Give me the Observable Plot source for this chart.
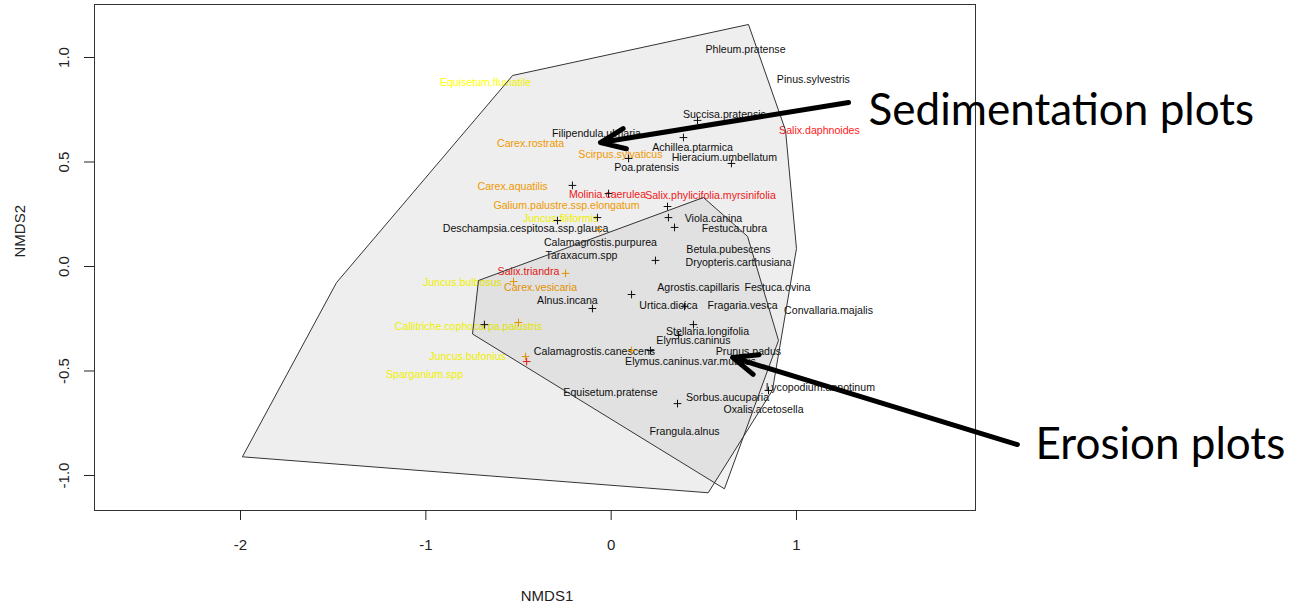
<!DOCTYPE html>
<html><head><meta charset="utf-8">
<script src="https://cdn.jsdelivr.net/npm/d3@7"></script>
<script src="https://cdn.jsdelivr.net/npm/@observablehq/plot@0.6"></script>
<style>body{margin:0;background:#fff}</style>
</head><body><div id="chart"></div>
<script>
// Species labels (NMDS scores)
const speciesNames = [
  "Phleum.pratense","Pinus.sylvestris","Succisa.pratensis","Filipendula.ulmaria","Achillea.ptarmica",
  "Hieracium.umbellatum","Poa.pratensis","Viola.canina","Festuca.rubra","Deschampsia.cespitosa.ssp.glauca",
  "Calamagrostis.purpurea","Taraxacum.spp","Betula.pubescens","Dryopteris.carthusiana","Agrostis.capillaris",
  "Festuca.ovina","Alnus.incana","Urtica.dioica","Fragaria.vesca","Convallaria.majalis",
  "Stellaria.longifolia","Elymus.caninus","Calamagrostis.canescens","Prunus.padus","Elymus.caninus.var.muticus",
  "Lycopodium.annotinum","Equisetum.pratense","Sorbus.aucuparia","Oxalis.acetosella","Frangula.alnus",
  "Carex.rostrata","Scirpus.sylvaticus","Carex.aquatilis","Galium.palustre.ssp.elongatum","Carex.vesicaria",
  "Salix.daphnoides","Molinia.caerulea","Salix.phylicifolia.myrsinifolia","Salix.triandra",
  "Equisetum.fluviatile","Juncus.filiformis","Juncus.bulbosus","Callitriche.cophocarpa.palustris","Juncus.bufonius","Sparganium.spp"
];
const speciesX = [
  0.725, 1.091, 0.611, -0.079, 0.439,
  0.611, 0.191, 0.552, 0.665, -0.462,
  -0.058, -0.160, 0.633, 0.687, 0.471,
  0.897, -0.236, 0.309, 0.709, 1.173,
  0.520, 0.444, -0.090, 0.741, 0.428,
  1.129, -0.004, 0.628, 0.822, 0.396,
  -0.435, 0.050, -0.532, -0.241, -0.381,
  1.124, -0.020, 0.536, -0.446,
  -0.678, -0.273, -0.803, -0.770, -0.775, -1.007
];
const speciesY = [
  1.038, 0.895, 0.727, 0.636, 0.569,
  0.522, 0.474, 0.230, 0.182, 0.182,
  0.115, 0.053, 0.081, 0.019, -0.100,
  -0.100, -0.163, -0.187, -0.187, -0.211,
  -0.311, -0.354, -0.407, -0.407, -0.455,
  -0.579, -0.603, -0.627, -0.684, -0.789,
  0.589, 0.536, 0.383, 0.292, -0.100,
  0.651, 0.344, 0.340, -0.024,
  0.880, 0.230, -0.077, -0.287, -0.431, -0.517
];
const speciesGroup = [
  "k","k","k","k","k","k","k","k","k","k",
  "k","k","k","k","k","k","k","k","k","k",
  "k","k","k","k","k","k","k","k","k","k",
  "o","o","o","o","o",
  "r","r","r","r",
  "y","y","y","y","y","y"
];
// Plot ("+") markers
const pointX = [0.466,0.390,0.649,0.094,-0.209,-0.014,0.304,0.309,0.342,-0.074,-0.290,0.239,0.110,-0.101,0.396,0.444,0.364,-0.684,0.212,0.358,0.849,
  -0.063,-0.246,-0.527,-0.500,-0.462,0.110,
  -0.456];
const pointY = [0.699,0.617,0.493,0.517,0.388,0.349,0.287,0.234,0.187,0.234,0.220,0.029,-0.134,-0.201,-0.191,-0.278,-0.330,-0.278,-0.402,-0.656,-0.593,
  0.177,-0.033,-0.072,-0.268,-0.431,-0.402,
  -0.455];
const pointGroup = ["k","k","k","k","k","k","k","k","k","k","k","k","k","k","k","k","k","k","k","k","k",
  "o","o","o","o","o","o",
  "r"];
// Group colours
const groupNames = ["k","o","r","y"];
const groupColors = ["#111111","#ffa500","#ff1a1a","#ffff00"];
// Convex hulls
const sedHullX = [-1.989,-1.482,-0.532,0.741,0.941,1.000,0.870,0.525];
const sedHullY = [-0.909,-0.077,0.914,1.158,0.651,0.086,-0.593,-1.081];
const eroHullX = [-0.748,-0.716,0.498,0.736,0.903,0.612];
const eroHullY = [-0.321,-0.067,0.330,0.144,-0.354,-1.062];
// Axes
const xTicks = [-2,-1,0,1];
const yTicks = [-1,-0.5,0,0.5,1];
// Annotations
const noteText = ["Sedimentation plots","Erosion plots"];
const noteX = [1.389, 2.290];
const noteY = [0.746, -0.856];
const arrowX1 = [1.281, 2.192];
const arrowY1 = [0.785, -0.852];
const arrowX2 = [-0.058, 0.655];
const arrowY2 = [0.593, -0.435];

const species = speciesNames.map((name,i)=>({name, x: speciesX[i], y: speciesY[i], g: speciesGroup[i]}));
const points = pointX.map((x,i)=>({x, y: pointY[i], g: pointGroup[i]}));
const sedHull = sedHullX.map((x,i)=>[x, sedHullY[i]]);
const eroHull = eroHullX.map((x,i)=>[x, eroHullY[i]]);
const notes = noteText.map((t,i)=>({t, x: noteX[i], y: noteY[i]}));
const arrows = arrowX1.map((x1,i)=>({x1, y1: arrowY1[i], x2: arrowX2[i], y2: arrowY2[i]}));

const chart = Plot.plot({
  width: 1291, height: 606,
  marginLeft: 94, marginRight: 316, marginTop: 4, marginBottom: 96,
  x: {domain: [-2.788, 1.966]},
  y: {domain: [-1.1675, 1.2536]},
  color: {domain: groupNames, range: groupColors},
  style: {fontFamily: "'Liberation Sans', Arial, sans-serif", background: "white", overflow: "visible", color: "#222"},
  marks: [
    Plot.text(species, {x: "x", y: "y", text: "name", fill: "g", fontSize: 10.6}),
    Plot.dot(points, {x: "x", y: "y", stroke: "g", symbol: "plus", r: 2.6, strokeWidth: 1}),
    Plot.line(sedHull, {curve: "linear-closed", fill: "#000", fillOpacity: 0.065, stroke: "#333", strokeWidth: 1}),
    Plot.line(eroHull, {curve: "linear-closed", fill: "#000", fillOpacity: 0.05, stroke: "#333", strokeWidth: 1}),
    Plot.frame({stroke: "#333"}),
    Plot.axisX({ticks: xTicks, tickSize: 10, tickPadding: 19, fontSize: 15, label: null, tickFormat: d => String(d)}),
    Plot.axisY({ticks: yTicks, tickSize: 10, tickPadding: 16, tickRotate: -90, fontSize: 15, label: null, tickFormat: d => d.toFixed(1)}),
    Plot.text(["NMDS1"], {frameAnchor: "bottom", dx: 12, dy: 90, fontSize: 15}),
    Plot.text(["NMDS2"], {frameAnchor: "left", dx: -74, rotate: -90, fontSize: 15}),
    Plot.arrow(arrows, {x1: "x1", y1: "y1", x2: "x2", y2: "y2", stroke: "black", strokeWidth: 5, headLength: 8, headAngle: 45}),
    Plot.text(notes, {x: "x", y: "y", text: "t", textAnchor: "start", fontSize: 44, fontFamily: "Lato, 'Open Sans', sans-serif", fill: "black"})
  ]
});
document.getElementById("chart").appendChild(chart);
</script>
</body></html>
